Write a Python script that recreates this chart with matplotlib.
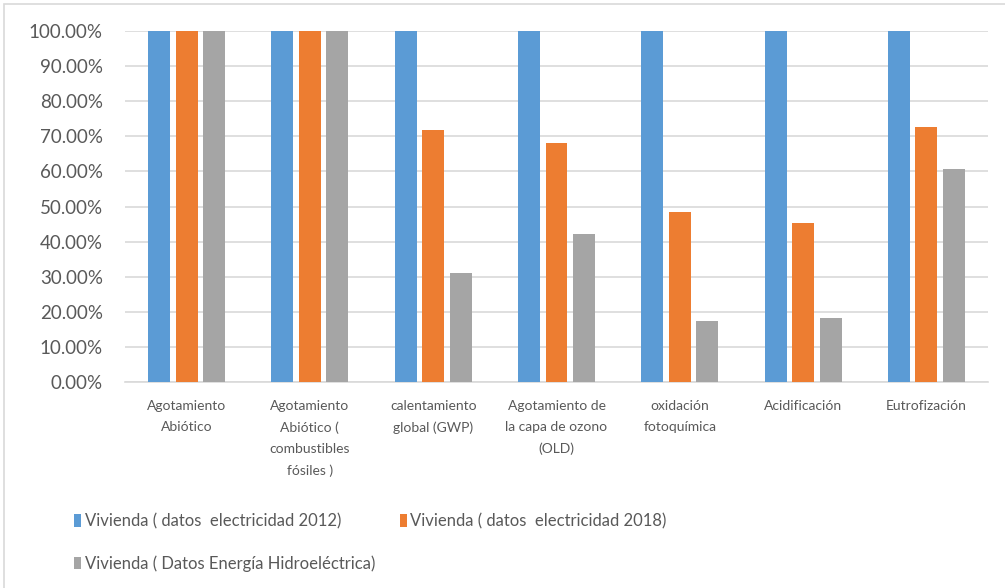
import numpy as np
import matplotlib
matplotlib.use('Agg')
import matplotlib.pyplot as plt
from matplotlib.patches import Rectangle

categorias = ['Agotamiento\nAbiótico',
              'Agotamiento\nAbiótico (\ncombustibles\nfósiles )',
              'calentamiento\nglobal (GWP)',
              'Agotamiento de\nla capa de ozono\n(OLD)',
              'oxidación\nfotoquímica',
              'Acidificación',
              'Eutrofización']
series = ['Vivienda ( datos  electricidad 2012)',
          'Vivienda ( datos  electricidad 2018)',
          'Vivienda ( Datos Energía Hidroeléctrica)']
val_2012 = [1.00, 1.00, 1.00, 1.00, 1.00, 1.00, 1.00]
val_2018 = [1.00, 1.00, 0.718, 0.681, 0.485, 0.454, 0.727]
val_hidro = [1.00, 0.999, 0.310, 0.421, 0.173, 0.183, 0.607]
colores = ['#5B9BD5', '#ED7D31', '#A5A5A5']
yticks = np.arange(0, 1.01, 0.1)

plt.rcParams['font.family'] = ['Lato', 'DejaVu Sans']

W, H = 1005, 588
fig = plt.figure(figsize=(W / 100, H / 100), dpi=100)
ax = fig.add_axes([125 / W, 1 - 382 / H, 863 / W, 351 / H])

# marco del grafico (se sale por la derecha y abajo)
fig.patches.append(Rectangle((4 / W, -0.1), 1.2, 1.1 - 4 / H, transform=fig.transFigure,
                             fill=False, edgecolor='#D9D9D9', lw=1.2, zorder=0))

x = np.arange(len(categorias))
ancho = 0.178
paso = 0.223
barras = []
for k, vals in enumerate([val_2012, val_2018, val_hidro]):
    b = ax.bar(x + (k - 1) * paso, vals, ancho, color=colores[k], label=series[k], zorder=3)
    barras.append(b)

ax.set_xlim(-0.5, len(categorias) - 0.5)
ax.set_ylim(0, 1)
ax.set_yticks(yticks)
ax.set_yticklabels(['{:.2f}%'.format(v * 100) for v in yticks], fontsize=13.5, color='#595959')
ax.set_xticks(x)
ax.set_xticklabels(categorias, fontsize=10, color='#595959', linespacing=1.88, va='top')
ax.tick_params(axis='both', length=0)
ax.tick_params(axis='y', pad=16)
ax.tick_params(axis='x', pad=13)
ax.grid(axis='y', color='#D9D9D9', lw=1.2, zorder=0)
for s in ['top', 'right', 'left']:
    ax.spines[s].set_visible(False)
ax.spines['bottom'].set_color('#D9D9D9')
ax.spines['bottom'].set_linewidth(1.2)

# orden de columnas para que la leyenda se llene por filas
orden = [0, 2, 1]
fig.legend(handles=[barras[i] for i in orden], labels=[series[i] for i in orden],
           loc='upper left', bbox_to_anchor=(66 / W, 1 - 505 / H),
           ncol=2, frameon=False, fontsize=12, labelcolor='#595959',
           handlelength=0.42, handleheight=0.8, handletextpad=0.2,
           columnspacing=1.5, labelspacing=1.55, borderpad=0)

plt.savefig('out.png', dpi=100)
